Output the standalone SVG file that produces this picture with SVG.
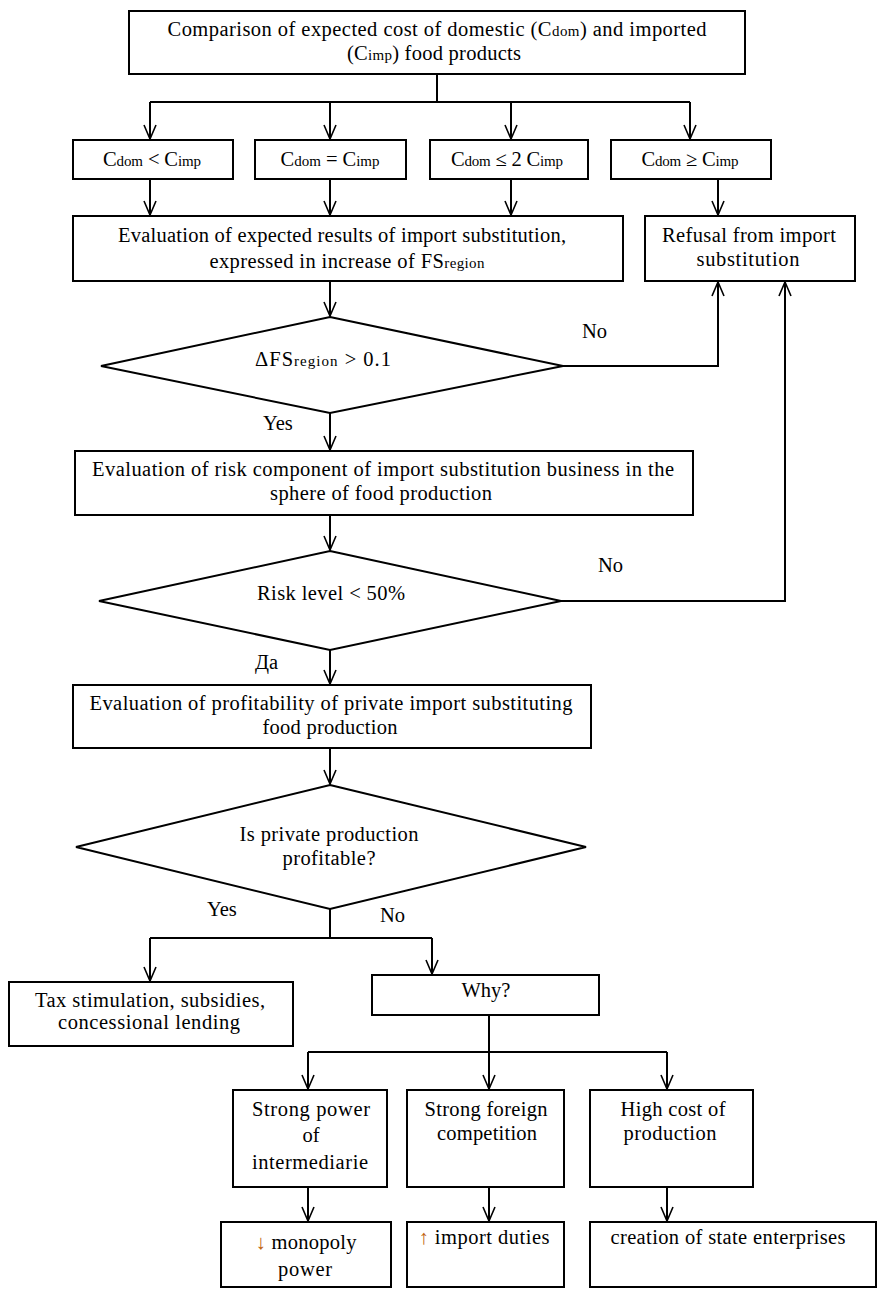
<svg xmlns="http://www.w3.org/2000/svg" width="884" height="1296" viewBox="0 0 884 1296">
<style>
.box{fill:#fff;stroke:#000;stroke-width:2}
.t{font-family:"Liberation Serif","Times New Roman",serif;font-size:20.5px;fill:#000;text-anchor:middle}
.l{font-family:"Liberation Serif","Times New Roman",serif;font-size:20.5px;fill:#000}
.s{font-size:15px}
.c{fill:none;stroke:#000;stroke-width:2}
.ar{fill:#c0640f}
</style>
<defs>
<marker id="a" viewBox="-16 -8 18 16" refX="0" refY="0" markerWidth="18" markerHeight="16" markerUnits="userSpaceOnUse" orient="auto">
<path d="M-14,-6 L0,0 L-14,6" fill="none" stroke="#000" stroke-width="1.6"/>
</marker>
</defs>
<rect width="884" height="1296" fill="#fff"/>
<g id="connectors">
<path class="c" d="M437,74 V102 M150,102 H690"/>
<path class="c" d="M150,102 V139" marker-end="url(#a)"/>
<path class="c" d="M330,102 V139" marker-end="url(#a)"/>
<path class="c" d="M511,102 V139" marker-end="url(#a)"/>
<path class="c" d="M690,102 V139" marker-end="url(#a)"/>
<path class="c" d="M150,179 V215" marker-end="url(#a)"/>
<path class="c" d="M330,179 V215" marker-end="url(#a)"/>
<path class="c" d="M511,179 V215" marker-end="url(#a)"/>
<path class="c" d="M718,179 V215" marker-end="url(#a)"/>
<path class="c" d="M330,281 V316" marker-end="url(#a)"/>
<path class="c" d="M563,366 H718 V282" marker-end="url(#a)"/>
<path class="c" d="M330,413 V450" marker-end="url(#a)"/>
<path class="c" d="M330,515 V550" marker-end="url(#a)"/>
<path class="c" d="M561,601 H785 V282" marker-end="url(#a)"/>
<path class="c" d="M330,650 V684" marker-end="url(#a)"/>
<path class="c" d="M330,748 V784" marker-end="url(#a)"/>
<path class="c" d="M330,909 V938 M150,938 H432"/>
<path class="c" d="M150,938 V981" marker-end="url(#a)"/>
<path class="c" d="M432,938 V974" marker-end="url(#a)"/>
<path class="c" d="M489,1015 V1052 M308,1052 H667"/>
<path class="c" d="M308,1052 V1089" marker-end="url(#a)"/>
<path class="c" d="M489,1052 V1089" marker-end="url(#a)"/>
<path class="c" d="M667,1052 V1089" marker-end="url(#a)"/>
<path class="c" d="M308,1187 V1221" marker-end="url(#a)"/>
<path class="c" d="M489,1187 V1221" marker-end="url(#a)"/>
<path class="c" d="M667,1187 V1221" marker-end="url(#a)"/>
<text class="l" x="582" y="338">No</text>
<text class="l" x="263" y="430">Yes</text>
<text class="l" x="598" y="572">No</text>
<text class="l" x="255" y="669">Да</text>
<text class="l" x="207" y="916">Yes</text>
<text class="l" x="380" y="922">No</text>
</g>
<g id="n-top">
<rect class="box" x="129" y="11" width="616" height="63"/>
<text class="t" x="437" y="36" textLength="539" lengthAdjust="spacing">Comparison of expected cost of domestic (C<tspan class="s">dom</tspan>) and imported</text>
<text class="t" x="434" y="60" textLength="174" lengthAdjust="spacing">(C<tspan class="s">imp</tspan>) food products</text>
</g>
<g id="n-c1">
<rect class="box" x="73" y="140" width="160" height="39"/>
<text class="t" x="152" y="166" textLength="98" lengthAdjust="spacing">C<tspan class="s">dom</tspan> &lt; C<tspan class="s">imp</tspan></text>
</g>
<g id="n-c2">
<rect class="box" x="255" y="140" width="151" height="39"/>
<text class="t" x="330" y="166" textLength="99" lengthAdjust="spacing">C<tspan class="s">dom</tspan> = C<tspan class="s">imp</tspan></text>
</g>
<g id="n-c3">
<rect class="box" x="430" y="140" width="158" height="39"/>
<text class="t" x="507" y="166" textLength="112" lengthAdjust="spacing">C<tspan class="s">dom</tspan> ≤ 2 C<tspan class="s">imp</tspan></text>
</g>
<g id="n-c4">
<rect class="box" x="611" y="140" width="160" height="39"/>
<text class="t" x="690" y="166" textLength="97" lengthAdjust="spacing">C<tspan class="s">dom</tspan> ≥ C<tspan class="s">imp</tspan></text>
</g>
<g id="n-eval">
<rect class="box" x="73" y="216" width="550" height="65"/>
<text class="t" x="342" y="242" textLength="448" lengthAdjust="spacing">Evaluation of expected results of import substitution,</text>
<text class="t" x="347" y="268" textLength="275" lengthAdjust="spacing">expressed in increase of FS<tspan class="s">region</tspan></text>
</g>
<g id="n-refusal">
<rect class="box" x="645" y="216" width="210" height="65"/>
<text class="t" x="749" y="242" textLength="174" lengthAdjust="spacing">Refusal from import</text>
<text class="t" x="748" y="266" textLength="103" lengthAdjust="spacing">substitution</text>
</g>
<g id="n-d1">
<polygon class="box" points="330,317 563,366 330,413 101,366"/>
<text class="t" x="323" y="366" textLength="136" lengthAdjust="spacing">ΔFS<tspan class="s">region</tspan> &gt; 0.1</text>
</g>
<g id="n-risk">
<rect class="box" x="75" y="451" width="618" height="64"/>
<text class="t" x="383" y="476" textLength="582" lengthAdjust="spacing">Evaluation of risk component of import substitution business in the</text>
<text class="t" x="381" y="500" textLength="222" lengthAdjust="spacing">sphere of food production</text>
</g>
<g id="n-d2">
<polygon class="box" points="330,551 561,601 330,650 99,601"/>
<text class="t" x="331" y="600" textLength="148" lengthAdjust="spacing">Risk level &lt; 50%</text>
</g>
<g id="n-profit">
<rect class="box" x="73" y="685" width="518" height="63"/>
<text class="t" x="331" y="710" textLength="483" lengthAdjust="spacing">Evaluation of profitability of private import substituting</text>
<text class="t" x="330" y="734" textLength="135" lengthAdjust="spacing">food production</text>
</g>
<g id="n-d3">
<polygon class="box" points="330,785 586,847 330,909 76,847"/>
<text class="t" x="329" y="841" textLength="179" lengthAdjust="spacing">Is private production</text>
<text class="t" x="329" y="865" textLength="93" lengthAdjust="spacing">profitable?</text>
</g>
<g id="n-tax">
<rect class="box" x="9" y="982" width="284" height="64"/>
<text class="t" x="150" y="1007" textLength="230" lengthAdjust="spacing">Tax stimulation, subsidies,</text>
<text class="t" x="149" y="1029" textLength="182" lengthAdjust="spacing">concessional lending</text>
</g>
<g id="n-why">
<rect class="box" x="372" y="975" width="227" height="40"/>
<text class="t" x="486" y="997">Why?</text>
</g>
<g id="n-power">
<rect class="box" x="233" y="1090" width="154" height="97"/>
<text class="t" x="311" y="1116" textLength="118" lengthAdjust="spacing">Strong power</text>
<text class="t" x="311" y="1142">of</text>
<text class="t" x="310" y="1169" textLength="116" lengthAdjust="spacing">intermediarie</text>
</g>
<g id="n-foreign">
<rect class="box" x="407" y="1090" width="157" height="97"/>
<text class="t" x="486" y="1116" textLength="123" lengthAdjust="spacing">Strong foreign</text>
<text class="t" x="487" y="1140" textLength="100" lengthAdjust="spacing">competition</text>
</g>
<g id="n-cost">
<rect class="box" x="590" y="1090" width="163" height="97"/>
<text class="t" x="673" y="1116" textLength="105" lengthAdjust="spacing">High cost of</text>
<text class="t" x="670" y="1140" textLength="93" lengthAdjust="spacing">production</text>
</g>
<g id="n-monopoly">
<rect class="box" x="221" y="1222" width="170" height="65"/>
<text class="t" x="306" y="1249" textLength="101" lengthAdjust="spacing"><tspan class="ar">↓</tspan> monopoly</text>
<text class="t" x="305" y="1276" textLength="54" lengthAdjust="spacing">power</text>
</g>
<g id="n-duties">
<rect class="box" x="407" y="1222" width="157" height="65"/>
<text class="t" x="484" y="1244" textLength="131" lengthAdjust="spacing"><tspan class="ar">↑</tspan> import duties</text>
</g>
<g id="n-state">
<rect class="box" x="590" y="1222" width="286" height="65"/>
<text class="t" x="728" y="1244" textLength="235" lengthAdjust="spacing">creation of state enterprises</text>
</g>
</svg>
